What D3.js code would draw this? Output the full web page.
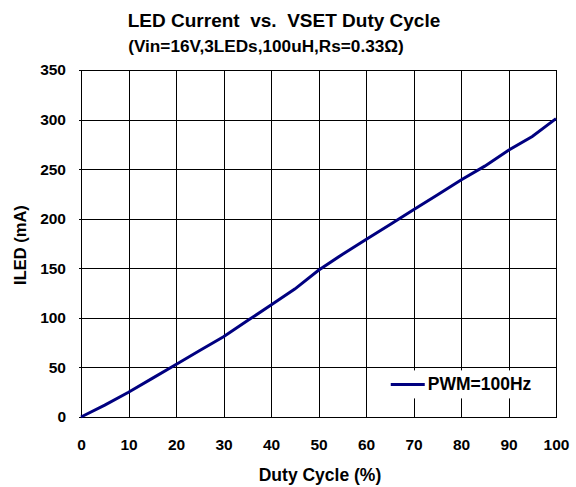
<!DOCTYPE html>
<html>
<head>
<meta charset="utf-8">
<script src="https://cdn.jsdelivr.net/npm/d3@7"></script>
<style>
  html, body { margin: 0; padding: 0; background: #fff; }
  svg { display: block; font-family: "Liberation Sans", Arial, sans-serif; }
</style>
</head>
<body>
<div id="chart"></div>
<script>
// LED current vs VSET duty cycle (PWM = 100Hz)
const dutyCycle = [0, 5, 10, 15, 20, 25, 30, 35, 40, 45, 50, 55, 60, 65, 70, 75, 80, 85, 90, 95, 100];
const iledMA    = [0, 12, 25, 39, 53, 67, 81, 97, 113, 129, 148, 164, 179, 194, 209, 224, 239, 253, 269, 283, 301];
const xTicks = [0, 10, 20, 30, 40, 50, 60, 70, 80, 90, 100];
const yTicks = [0, 50, 100, 150, 200, 250, 300, 350];
const seriesName = 'PWM=100Hz';

(function () {
    const width = 576, height = 487;
    const margin = { top: 70, right: 20, bottom: 70, left: 81 };
    const innerW = 475;
    const innerH = 347;
    const FONT = '"Liberation Sans", Arial, sans-serif';

    const svg = d3.select('#chart').append('svg')
        .attr('width', width).attr('height', height);

    const g = svg.append('g').attr('transform', `translate(${margin.left},${margin.top})`);

    const x = d3.scaleLinear().domain([0, 100]).range([0, innerW]);
    const y = d3.scaleLinear().domain([0, 350]).range([innerH, 0]);

    // Grid
    g.selectAll('.vgrid').data(xTicks).enter().append('line')
        .attr('x1', d => Math.round(x(d)) + 0.5).attr('x2', d => Math.round(x(d)) + 0.5)
        .attr('y1', 0).attr('y2', innerH)
        .attr('stroke', '#000').attr('stroke-width', 1);
    g.selectAll('.hgrid').data(yTicks).enter().append('line')
        .attr('x1', -2).attr('x2', innerW)
        .attr('y1', d => Math.round(y(d)) + 0.5).attr('y2', d => Math.round(y(d)) + 0.5)
        .attr('stroke', '#000').attr('stroke-width', 1);

    // Frame
    g.append('rect')
        .attr('x', 0.5).attr('y', 0.5)
        .attr('width', innerW).attr('height', innerH)
        .attr('fill', 'none').attr('stroke', '#000').attr('stroke-width', 1);

    // Axes (labels only)
    g.append('g').attr('transform', `translate(0,${innerH})`)
        .call(d3.axisBottom(x).tickValues(xTicks).tickSize(0).tickPadding(22))
        .call(a => a.select('.domain').remove())
        .selectAll('text').attr('fill', '#000').attr('font-size', '15.5px').attr('font-weight', 'bold')
        .attr('font-family', FONT);

    g.append('g')
        .call(d3.axisLeft(y).tickValues(yTicks).tickSize(0).tickPadding(15))
        .call(a => a.select('.domain').remove())
        .selectAll('text').attr('fill', '#000').attr('font-size', '15.5px').attr('font-weight', 'bold')
        .attr('font-family', FONT);

    // Data line
    const pts = dutyCycle.map((d, i) => ({ d, v: iledMA[i] }));
    g.append('path').datum(pts)
        .attr('fill', 'none')
        .attr('stroke', '#000080')
        .attr('stroke-width', 3)
        .attr('d', d3.line().x(p => x(p.d)).y(p => y(p.v)));

    // Legend
    const legend = g.append('g').attr('transform', `translate(${x(65)},${y(47)})`);
    legend.append('rect').attr('x', 0).attr('y', 0).attr('width', 150).attr('height', 28).attr('fill', '#fff');
    legend.append('line').attr('x1', 1).attr('x2', 35).attr('y1', 14).attr('y2', 14)
        .attr('stroke', '#000080').attr('stroke-width', 3);
    legend.append('text').attr('x', 38).attr('y', 20)
        .attr('font-size', '17.5px').attr('font-weight', 'bold').text(seriesName);

    // Titles
    svg.append('text').attr('x', 284).attr('y', 27)
        .attr('text-anchor', 'middle').attr('font-size', '19px').attr('font-weight', 'bold')
        .attr('xml:space', 'preserve').style('white-space', 'pre')
        .text('LED Current  vs.  VSET Duty Cycle');
    svg.append('text').attr('x', 266).attr('y', 52)
        .attr('text-anchor', 'middle').attr('font-size', '17.2px').attr('font-weight', 'bold')
        .text('(Vin=16V,3LEDs,100uH,Rs=0.33\u03A9)');

    svg.append('text').attr('x', 320).attr('y', 481)
        .attr('text-anchor', 'middle').attr('font-size', '17.5px').attr('font-weight', 'bold')
        .text('Duty Cycle (%)');

    svg.append('text').attr('transform', 'rotate(-90)')
        .attr('x', -245).attr('y', 26)
        .attr('text-anchor', 'middle').attr('font-size', '16.5px').attr('font-weight', 'bold')
        .text('ILED (mA)');
})();
</script>
</body>
</html>
